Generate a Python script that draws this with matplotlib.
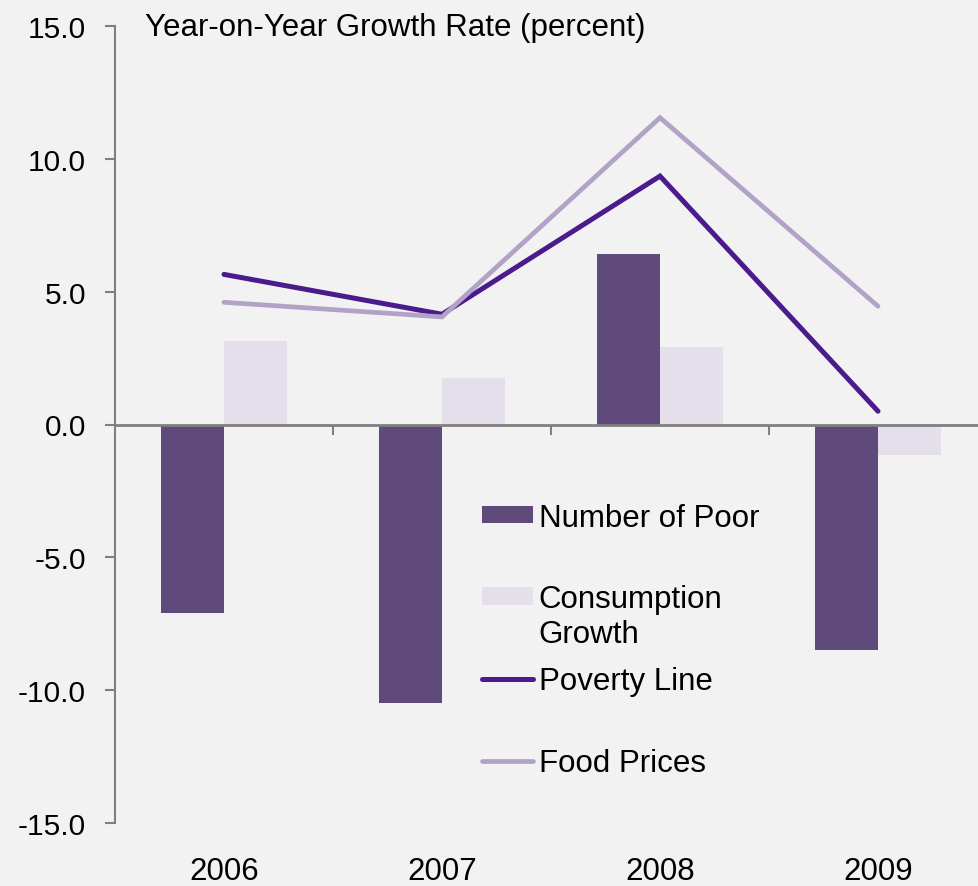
import matplotlib
matplotlib.use('Agg')
import matplotlib.pyplot as plt
from matplotlib.patches import Patch
from matplotlib.lines import Line2D
import numpy as np

years = ['2006', '2007', '2008', '2009']
number_of_poor = [-7.1, -10.5, 6.4, -8.5]
consumption_growth = [3.15, 1.75, 2.9, -1.15]
poverty_line = [5.65, 4.15, 9.35, 0.5]
food_prices = [4.6, 4.05, 11.55, 4.45]
yticks = [-15, -10, -5, 0, 5, 10, 15]
title = 'Year-on-Year Growth Rate (percent)'
legend_labels = ['Number of Poor', 'Consumption', 'Poverty Line', 'Food Prices']

plt.rcParams['font.family'] = ['Liberation Sans', 'DejaVu Sans']

W, H = 979, 887
BG = '#f2f2f2'
AXC = '#7f7f7f'
C_POOR = '#604a7b'
C_CONS = '#e5dfec'
C_POV = '#4b1a8c'
C_FOOD = '#b3a2c7'
FS = 22.5

fig = plt.figure(figsize=(W / 100, H / 100), dpi=100, facecolor=BG)
ax_left = 115 / W
ax_bottom = (H - 824) / H
ax_top = (H - 27) / H
ax = fig.add_axes([ax_left, ax_bottom, 1 - ax_left, ax_top - ax_bottom])
ax.set_facecolor(BG)

x = np.arange(len(years))
bw = 0.29
ax.bar(x - bw / 2, number_of_poor, bw, color=C_POOR, zorder=2)
ax.bar(x + bw / 2, consumption_growth, bw, color=C_CONS, zorder=2)
ax.plot(x, poverty_line, color=C_POV, lw=3.6, solid_capstyle='round',
        solid_joinstyle='miter', zorder=3)
ax.plot(x, food_prices, color=C_FOOD, lw=3.4, solid_capstyle='round',
        solid_joinstyle='miter', zorder=4)

ax.set_xlim(-0.5, -0.5 + (W - 115) / 218)
ax.set_ylim(-15, 15)

for s in ['top', 'right']:
    ax.spines[s].set_visible(False)
ax.spines['left'].set_color(AXC)
ax.spines['left'].set_linewidth(1.5)
ax.spines['bottom'].set_position(('data', 0))
ax.spines['bottom'].set_color(AXC)
ax.spines['bottom'].set_linewidth(2)
ax.spines['bottom'].set_zorder(5)

ax.set_xticks(x[:-1] + 0.5)
ax.set_xticklabels([])
ax.tick_params(axis='x', direction='out', length=7, width=1.5, color=AXC)

ax.set_yticks(yticks)
ax.set_yticklabels([f'{v:.1f}' for v in yticks])
ax.tick_params(axis='y', direction='out', length=7, width=1.5, color=AXC,
               pad=14, labelsize=21.5)

for xi, yr in zip(x, years):
    ax.text(xi, (824 - 880) / 797, yr, transform=ax.get_xaxis_transform(),
            ha='center', va='baseline', fontsize=FS)

fig.text(145 / W, 1 - 36 / H, title, ha='left', va='baseline', fontsize=FS)

handles = [Patch(facecolor=C_POOR), Patch(facecolor=C_CONS),
           Line2D([], [], color=C_POV, lw=3.6, solid_capstyle='round'),
           Line2D([], [], color=C_FOOD, lw=3.4, solid_capstyle='round')]
leg = fig.legend(handles, legend_labels, loc='upper left',
                 bbox_to_anchor=(482 / W, 1 - 503.6 / H),
                 bbox_transform=fig.transFigure, frameon=False, fontsize=FS,
                 handlelength=1.62, handleheight=0.5, handletextpad=0.2,
                 labelspacing=1.66, borderpad=0, borderaxespad=0)
fig.text(538 / W, 1 - 643 / H, 'Growth', ha='left', va='baseline', fontsize=FS)

fig.savefig('out.png', dpi=100, facecolor=BG)
